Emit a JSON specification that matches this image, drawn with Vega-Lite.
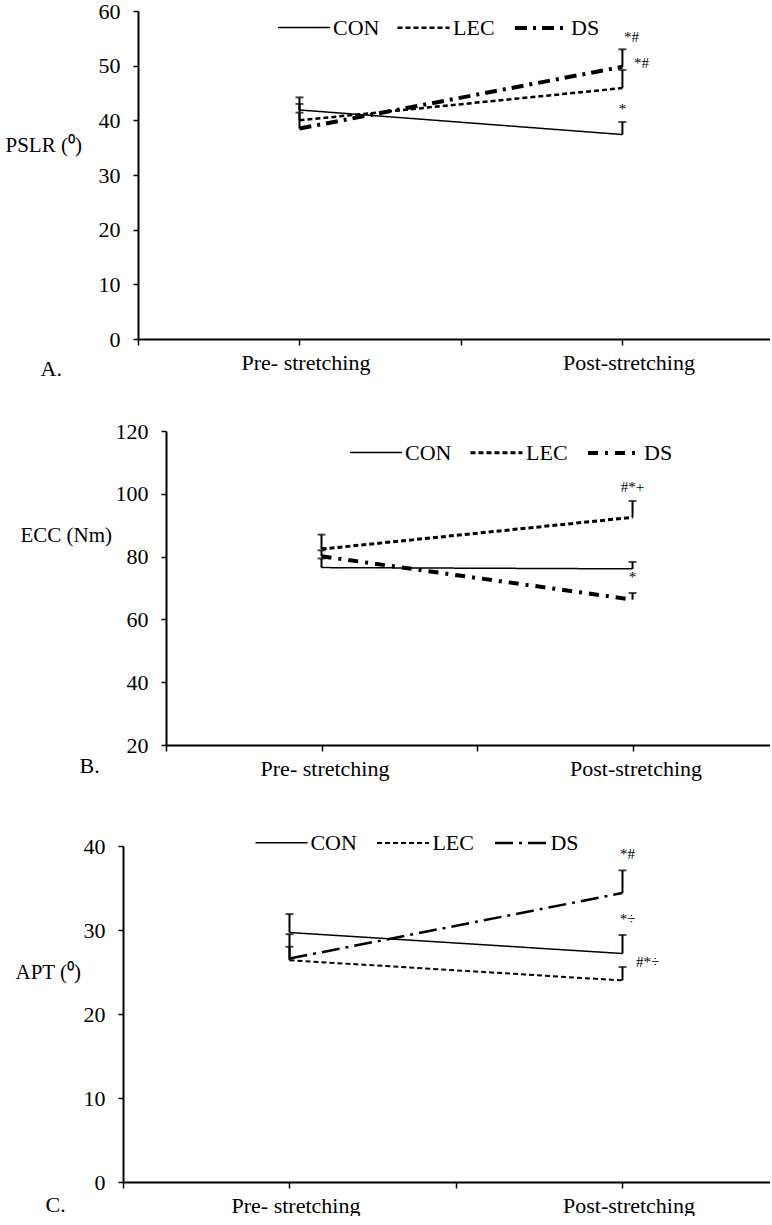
{
  "$schema": "https://vega.github.io/schema/vega-lite/v6.json",
  "padding": {"left": 5, "top": 0, "right": 0, "bottom": 0},
  "background": "white",
  "config": {
    "font": "Liberation Serif",
    "view": {"stroke": null},
    "axis": {"domainColor": "black", "tickColor": "black", "labelColor": "black", "titleColor": "black", "grid": false, "labelFontSize": 22, "titleFontSize": 21, "titleFontWeight": "normal", "labelFont": "Liberation Serif", "titleFont": "Liberation Serif", "domainWidth": 2, "tickWidth": 1.5},
    "axisY": {"tickSize": 5, "labelPadding": 13, "titleAngle": 0, "titleAlign": "left", "titleBaseline": "middle"},
    "axisX": {"tickSize": 6, "labelPadding": 7, "labelFlush": false, "labelOverlap": false, "titleAngle": 0, "titleAlign": "left", "titleBaseline": "middle", "titleFontSize": 22},
    "legend": {"labelFontSize": 22, "labelFont": "Liberation Serif", "labelColor": "black", "symbolType": "stroke", "symbolSize": 2700, "symbolStrokeColor": "black", "direction": "horizontal", "orient": "none", "columnPadding": 12, "labelOffset": 2}
  },
  "datasets": {
    "A": [
      {"time": "Pre- stretching", "t": 0, "group": "CON", "value": 41.9, "upper": 44.2},
      {"time": "Pre- stretching", "t": 0, "group": "LEC", "value": 40.0, "upper": 43.0},
      {"time": "Pre- stretching", "t": 0, "group": "DS", "value": 38.5, "upper": 41.4},
      {"time": "Post-stretching", "t": 1, "group": "CON", "value": 37.4, "upper": 39.7},
      {"time": "Post-stretching", "t": 1, "group": "LEC", "value": 45.9, "upper": 49.2},
      {"time": "Post-stretching", "t": 1, "group": "DS", "value": 49.8, "upper": 53.0}
    ],
    "Anotes": [
      {"t": 1, "value": 55.2, "label": "*#"},
      {"t": 1, "value": 50.5, "label": "*#"},
      {"t": 1, "value": 42.1, "label": "*"}
    ],
    "B": [
      {"time": "Pre- stretching", "t": 0, "group": "CON", "value": 76.5, "upper": 79.4},
      {"time": "Pre- stretching", "t": 0, "group": "LEC", "value": 82.4, "upper": 87.0},
      {"time": "Pre- stretching", "t": 0, "group": "DS", "value": 80.1, "upper": 82.0},
      {"time": "Post-stretching", "t": 1, "group": "CON", "value": 76.1, "upper": 78.3},
      {"time": "Post-stretching", "t": 1, "group": "LEC", "value": 92.5, "upper": 97.7},
      {"time": "Post-stretching", "t": 1, "group": "DS", "value": 66.3, "upper": 68.4}
    ],
    "Bnotes": [
      {"t": 1, "value": 102.2, "label": "#*+"},
      {"t": 1, "value": 73.5, "label": "*"}
    ],
    "C": [
      {"time": "Pre- stretching", "t": 0, "group": "CON", "value": 29.7, "upper": 31.9},
      {"time": "Pre- stretching", "t": 0, "group": "LEC", "value": 26.4, "upper": 28.0},
      {"time": "Pre- stretching", "t": 0, "group": "DS", "value": 26.6, "upper": 29.5},
      {"time": "Post-stretching", "t": 1, "group": "CON", "value": 27.2, "upper": 29.4},
      {"time": "Post-stretching", "t": 1, "group": "LEC", "value": 24.0, "upper": 25.6},
      {"time": "Post-stretching", "t": 1, "group": "DS", "value": 34.4, "upper": 37.1}
    ],
    "Cnotes": [
      {"t": 1, "value": 39.0, "label": "*#"},
      {"t": 1, "value": 31.3, "label": "*÷"},
      {"t": 1, "value": 26.2, "label": "#*÷"}
    ]
  },
  "columns": 1,
  "spacing": 41,
  "resolve": {
    "scale": {"strokeDash": "independent", "strokeWidth": "independent"},
    "legend": {"strokeDash": "independent", "strokeWidth": "independent"}
  },
  "concat": [
    {
      "width": 647, "height": 328,
      "layer": [
        {
          "data": {"name": "A"},
          "mark": {"type": "line", "color": "black", "strokeCap": "butt"},
          "encoding": {
            "x": {"field": "t", "type": "quantitative", "scale": {"domain": [-0.5, 1.457], "rangeMin": 15, "nice": false, "zero": false},
              "axis": {"values": [-0.5, 0, 0.5, 1], "labelExpr": "datum.value == 0 ? 'Pre- stretching' : datum.value == 1 ? 'Post-stretching' : ''", "labelOffset": 6, "title": "A.", "titleX": -83, "titleY": 29}},
            "y": {"field": "value", "type": "quantitative", "scale": {"domain": [0, 60], "nice": false, "zero": false},
              "axis": {"values": [0, 10, 20, 30, 40, 50, 60], "offset": -15, "title": "PSLR (⁰)", "titleX": -133, "titleY": 134}},
            "strokeDash": {"field": "group", "type": "nominal", "scale": {"domain": ["CON", "LEC", "DS"], "range": [[1, 0], [5, 3], [12, 6, 3, 6]]},
              "legend": {"title": null, "legendX": 154, "legendY": -11}},
            "strokeWidth": {"field": "group", "type": "nominal", "scale": {"type": "ordinal", "domain": ["CON", "LEC", "DS"], "range": [1.5, 2.5, 4]},
              "legend": {"title": null, "legendX": 154, "legendY": -11}}
          }
        },
        {
          "data": {"name": "A"},
          "mark": {"type": "rule", "color": "black", "strokeWidth": 2},
          "encoding": {"x": {"field": "t", "type": "quantitative"}, "y": {"field": "value", "type": "quantitative"}, "y2": {"field": "upper"}}
        },
        {
          "data": {"name": "A"},
          "mark": {"type": "tick", "orient": "horizontal", "color": "black", "size": 8, "thickness": 2},
          "encoding": {"x": {"field": "t", "type": "quantitative"}, "y": {"field": "upper", "type": "quantitative"}}
        },
        {
          "data": {"name": "Anotes"},
          "transform": [{"filter": "datum.value > 54"}],
          "mark": {"type": "text", "fontSize": 15, "dx": 9, "color": "black"},
          "encoding": {"x": {"field": "t", "type": "quantitative"}, "y": {"field": "value", "type": "quantitative"}, "text": {"field": "label"}}
        },
        {
          "data": {"name": "Anotes"},
          "transform": [{"filter": "datum.value > 45 && datum.value < 54"}],
          "mark": {"type": "text", "fontSize": 15, "dx": 19, "color": "black"},
          "encoding": {"x": {"field": "t", "type": "quantitative"}, "y": {"field": "value", "type": "quantitative"}, "text": {"field": "label"}}
        },
        {
          "data": {"name": "Anotes"},
          "transform": [{"filter": "datum.value < 45"}],
          "mark": {"type": "text", "fontSize": 15, "dx": 0, "color": "black"},
          "encoding": {"x": {"field": "t", "type": "quantitative"}, "y": {"field": "value", "type": "quantitative"}, "text": {"field": "label"}}
        }
      ]
    },
    {
      "width": 647, "height": 314,
      "layer": [
        {
          "data": {"name": "B"},
          "mark": {"type": "line", "color": "black", "strokeCap": "butt"},
          "encoding": {
            "x": {"field": "t", "type": "quantitative", "scale": {"domain": [-0.5, 1.442], "rangeMin": 43, "nice": false, "zero": false},
              "axis": {"values": [-0.5, 0, 0.5, 1], "labelExpr": "datum.value == 0 ? 'Pre- stretching' : datum.value == 1 ? 'Post-stretching' : ''", "labelOffset": 3, "title": "B.", "titleX": -44, "titleY": 20}},
            "y": {"field": "value", "type": "quantitative", "scale": {"domain": [20, 120], "nice": false, "zero": false},
              "axis": {"values": [20, 40, 60, 80, 100, 120], "offset": -43, "title": "ECC (Nm)", "titleX": -146, "titleY": 104}},
            "strokeDash": {"field": "group", "type": "nominal", "scale": {"domain": ["CON", "LEC", "DS"], "range": [[1, 0], [5, 3], [10, 7, 3, 7]]},
              "legend": {"title": null, "legendX": 226, "legendY": -6}},
            "strokeWidth": {"field": "group", "type": "nominal", "scale": {"type": "ordinal", "domain": ["CON", "LEC", "DS"], "range": [1.5, 3, 4]},
              "legend": {"title": null, "legendX": 226, "legendY": -6}}
          }
        },
        {
          "data": {"name": "B"},
          "mark": {"type": "rule", "color": "black", "strokeWidth": 2},
          "encoding": {"x": {"field": "t", "type": "quantitative"}, "y": {"field": "value", "type": "quantitative"}, "y2": {"field": "upper"}}
        },
        {
          "data": {"name": "B"},
          "mark": {"type": "tick", "orient": "horizontal", "color": "black", "size": 8, "thickness": 2},
          "encoding": {"x": {"field": "t", "type": "quantitative"}, "y": {"field": "upper", "type": "quantitative"}}
        },
        {
          "data": {"name": "Bnotes"},
          "mark": {"type": "text", "fontSize": 15, "dx": 0, "color": "black"},
          "encoding": {"x": {"field": "t", "type": "quantitative"}, "y": {"field": "value", "type": "quantitative"}, "text": {"field": "label"}}
        }
      ]
    },
    {
      "width": 647, "height": 336,
      "layer": [
        {
          "data": {"name": "C"},
          "mark": {"type": "line", "color": "black", "strokeCap": "butt"},
          "encoding": {
            "x": {"field": "t", "type": "quantitative", "scale": {"domain": [-0.5, 1.443], "nice": false, "zero": false},
              "axis": {"values": [-0.5, 0, 0.5, 1], "labelExpr": "datum.value == 0 ? 'Pre- stretching' : datum.value == 1 ? 'Post-stretching' : ''", "labelOffset": 6, "title": "C.", "titleX": -78, "titleY": 22}},
            "y": {"field": "value", "type": "quantitative", "scale": {"domain": [0, 40], "nice": false, "zero": false},
              "axis": {"values": [0, 10, 20, 30, 40], "title": "APT (⁰)", "titleX": -108, "titleY": 126}},
            "strokeDash": {"field": "group", "type": "nominal", "scale": {"domain": ["CON", "LEC", "DS"], "range": [[1, 0], [5, 3], [18, 6, 3, 6]]},
              "legend": {"title": null, "legendX": 136, "legendY": -26, "symbolType": "M-1.2,0H1.2", "symbolSize": 1877, "labelOffset": 6.4, "columnPadding": 16}},
            "strokeWidth": {"field": "group", "type": "nominal", "scale": {"type": "ordinal", "domain": ["CON", "LEC", "DS"], "range": [1.5, 2, 2.5]},
              "legend": {"title": null, "legendX": 136, "legendY": -26, "symbolType": "M-1.2,0H1.2", "symbolSize": 1877, "labelOffset": 6.4, "columnPadding": 16}}
          }
        },
        {
          "data": {"name": "C"},
          "mark": {"type": "rule", "color": "black", "strokeWidth": 2},
          "encoding": {"x": {"field": "t", "type": "quantitative"}, "y": {"field": "value", "type": "quantitative"}, "y2": {"field": "upper"}}
        },
        {
          "data": {"name": "C"},
          "mark": {"type": "tick", "orient": "horizontal", "color": "black", "size": 8, "thickness": 2},
          "encoding": {"x": {"field": "t", "type": "quantitative"}, "y": {"field": "upper", "type": "quantitative"}}
        },
        {
          "data": {"name": "Cnotes"},
          "transform": [{"filter": "datum.value > 28"}],
          "mark": {"type": "text", "fontSize": 15, "dx": 5, "color": "black"},
          "encoding": {"x": {"field": "t", "type": "quantitative"}, "y": {"field": "value", "type": "quantitative"}, "text": {"field": "label"}}
        },
        {
          "data": {"name": "Cnotes"},
          "transform": [{"filter": "datum.value < 28"}],
          "mark": {"type": "text", "fontSize": 15, "dx": 25, "color": "black"},
          "encoding": {"x": {"field": "t", "type": "quantitative"}, "y": {"field": "value", "type": "quantitative"}, "text": {"field": "label"}}
        }
      ]
    }
  ]
}
